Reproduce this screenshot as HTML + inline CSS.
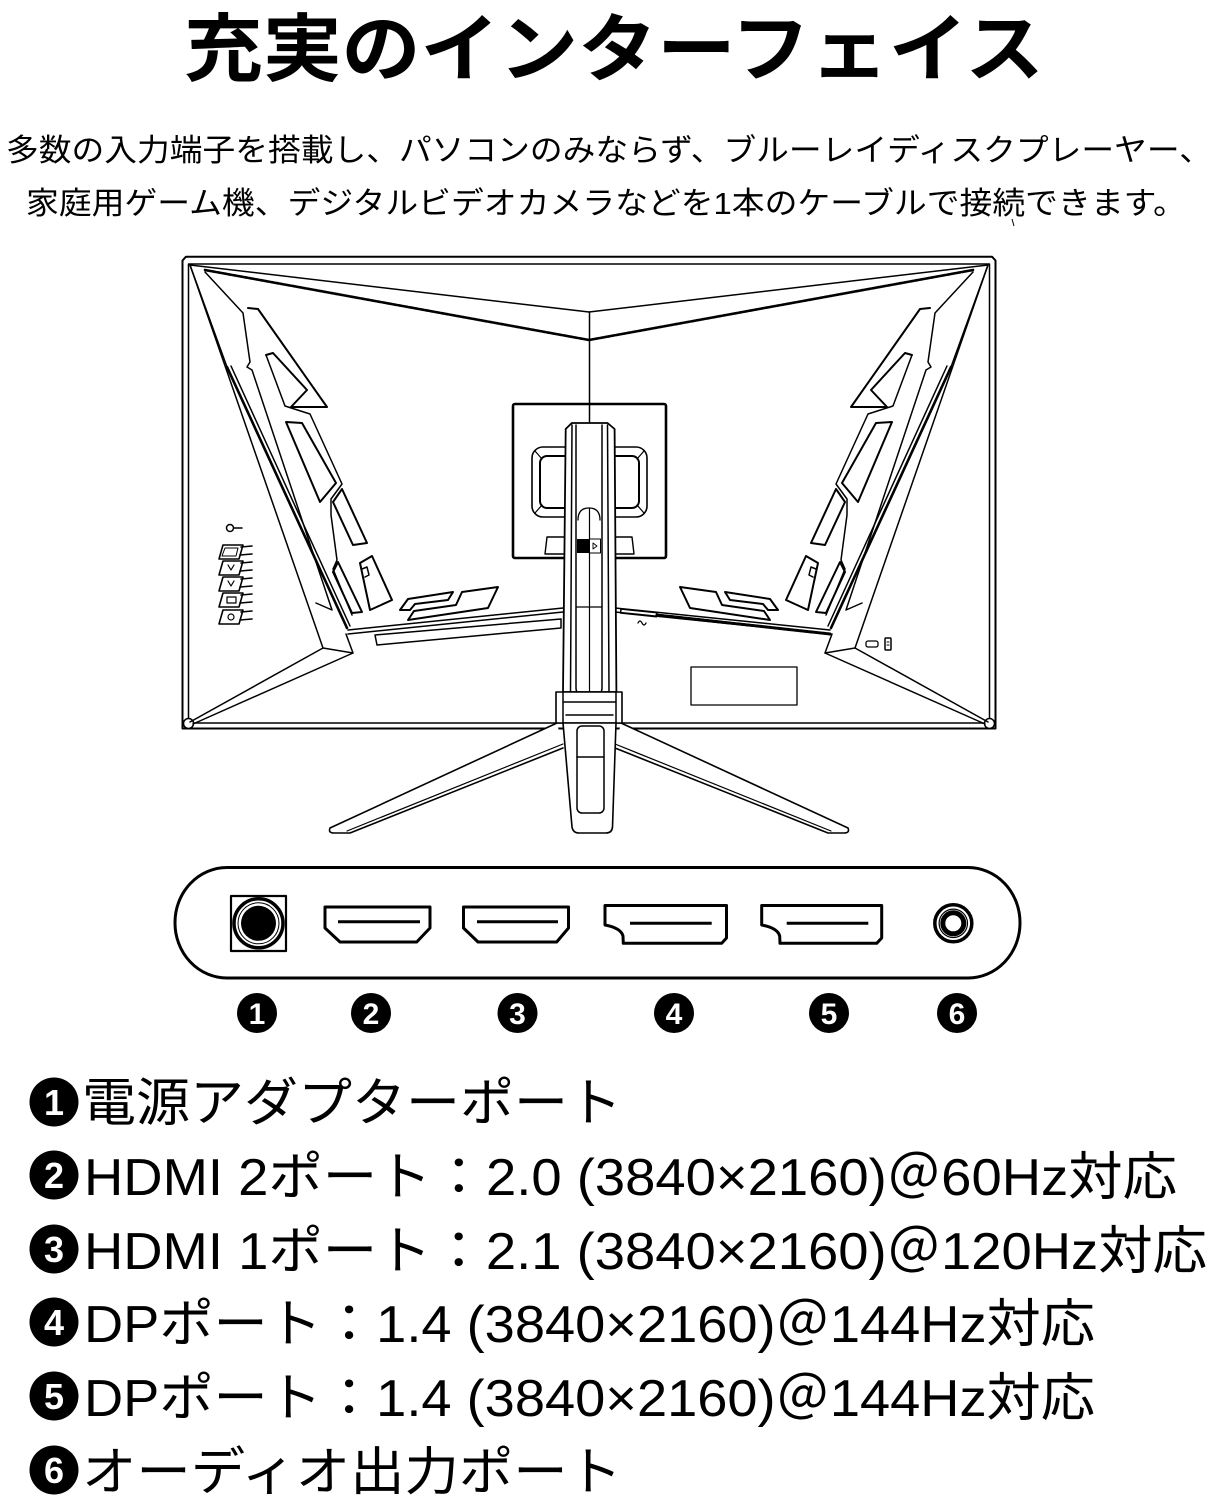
<!DOCTYPE html>
<html><head><meta charset="utf-8"><style>
html,body{margin:0;padding:0;background:#fff;}
svg{display:block;}
</style></head><body>
<svg width="1212" height="1500" viewBox="0 0 1212 1500" xmlns="http://www.w3.org/2000/svg">
<rect width="1212" height="1500" fill="#fff"/>

<!-- Title & subtitle -->
<g font-family="'Liberation Sans','Noto Sans CJK JP',sans-serif" fill="#000">
<text x="184" y="75" font-size="74" font-weight="700" textLength="860" lengthAdjust="spacingAndGlyphs">充実のインターフェイス</text>
<text x="6" y="161" font-size="31" textLength="1206" lengthAdjust="spacingAndGlyphs">多数の入力端子を搭載し、パソコンのみならず、ブルーレイディスクプレーヤー、</text>
<text x="26" y="214" font-size="31" textLength="1160" lengthAdjust="spacingAndGlyphs">家庭用ゲーム機、デジタルビデオカメラなどを1本のケーブルで接続できます。</text>
</g>
<path d="M1012,219 L1014,226" stroke="#000" stroke-width="1"/>

<!-- Monitor -->
<g fill="none" stroke="#000" stroke-width="1.5" stroke-linejoin="round" stroke-linecap="round">
<path d="M186,256.7 L992,256.7 L995.5,260.5 L995.5,728.5 L182.5,728.5 L182.5,260.5 Z" stroke-width="2"/>
<rect x="188.5" y="264" width="801" height="459" stroke-width="1.5"/>
<circle cx="188.5" cy="723.5" r="5" fill="#fff"/>
<circle cx="989.5" cy="723.5" r="5" fill="#fff"/>

<!-- left half -->
<g>
<path d="M190,265 L589,312"/>
<path d="M205,270 L589,340" stroke-width="2.6" stroke-dasharray="3 1"/>
<path d="M190,265 L323,648 L353,653 L346,634"/>
<path d="M190,265 L227,367"/>
<path d="M227,367 L347,628" stroke-width="2.6"/>
<path d="M231,366 L350,626"/>
<path d="M205,272 L243,313 L250,362 L247,367 L252,370 L332,610 L316,603"/>
<path d="M266,355 L285,406 L310,414 L342,484 L331,499 L331,515 L337,560 L333,569 L352,615"/>
<path d="M248,308 L258,309 L327,407 L291,407 L307,390 L273,353 L266,355" stroke-width="2"/>
<polygon points="286,422 302,423 336,483 320,502" stroke-width="2"/>
<polygon points="333,502 342,489 367,543 353,545" stroke-width="2"/>
<polygon points="333,572 338,562 362,612 352,613" stroke-width="2"/>
<polygon points="360,563 372,556 392,600 370,610" stroke-width="2"/>
<path d="M362,569 L367,567 L369,575 L365,577" stroke-width="1.5"/>
<path d="M323,648 L190,722"/>
<path d="M353,653 L193,724"/>
<polygon points="400,610 408,599 453,592 448,600 415,604 410,610" stroke-width="2"/>
<polygon points="408,620 414,611 456,605 462,592 498,587 488,608" stroke-width="2"/>
<path d="M348,630 L563,608"/>
<path d="M348,634 L563,612"/>
</g>

<!-- right half (mirror) -->
<g transform="translate(1178,0) scale(-1,1)">
<path d="M190,265 L589,312"/>
<path d="M205,270 L589,340" stroke-width="2.6" stroke-dasharray="3 1"/>
<path d="M190,265 L323,648 L353,653 L346,634"/>
<path d="M190,265 L227,367"/>
<path d="M227,367 L347,628" stroke-width="2.6"/>
<path d="M231,366 L350,626"/>
<path d="M205,272 L243,313 L250,362 L247,367 L252,370 L332,610 L316,603"/>
<path d="M266,355 L285,406 L310,414 L342,484 L331,499 L331,515 L337,560 L333,569 L352,615"/>
<path d="M248,308 L258,309 L327,407 L291,407 L307,390 L273,353 L266,355" stroke-width="2"/>
<polygon points="286,422 302,423 336,483 320,502" stroke-width="2"/>
<polygon points="333,502 342,489 367,543 353,545" stroke-width="2"/>
<polygon points="333,572 338,562 362,612 352,613" stroke-width="2"/>
<polygon points="360,563 372,556 392,600 370,610" stroke-width="2"/>
<path d="M362,569 L367,567 L369,575 L365,577" stroke-width="1.5"/>
<path d="M323,648 L190,722"/>
<path d="M353,653 L193,724"/>
<polygon points="400,610 408,599 453,592 448,600 415,604 410,610" stroke-width="2"/>
<polygon points="408,620 414,611 456,605 462,592 498,587 488,608" stroke-width="2"/>
<path d="M348,630 L563,608"/>
<path d="M348,634 L563,612"/>
</g>

<!-- left long slot rect -->
<polygon points="375,635 561,619 561,628 377,645" stroke-width="1.5"/>
<!-- right vent -->
<path d="M657,615 L830,634" stroke-width="3" stroke-dasharray="3 1.5"/>
<rect x="621" y="609" width="36" height="4" stroke-width="1.5" transform="rotate(6 621 609)"/>
<path d="M638,623 q2,-4 4,0 q2,4 4,0" stroke-width="1.3"/>
<rect x="691" y="667" width="106" height="38" stroke-width="1.3"/>
<rect x="866" y="641" width="12" height="6" rx="2" stroke-width="1.3"/>
<rect x="885" y="638" width="6" height="12" rx="1" stroke-width="1.5"/>
<path d="M887,642 L889,642 M887,645 L889,645" stroke-width="1"/>

<!-- left port icons -->
<circle cx="230" cy="528" r="3.5" stroke-width="1.5"/>
<path d="M234,528 L242,528" stroke-width="1.5"/>
<g stroke-width="1.6">
<polygon points="219,559 223,545 243,545 239,559"/>
<polygon points="222,556 225,548 238,548 236,556" stroke-width="1"/>
<path d="M241,547 L252,546 M240,555 L252,554"/>
<polygon points="219,575 223,561 243,561 239,575"/>
<path d="M228,565 L231,570 L234,565" stroke-width="1.2"/>
<path d="M241,563 L252,562 M240,571 L252,570"/>
<polygon points="219,591 223,577 243,577 239,591"/>
<path d="M228,581 L231,586 L234,581" stroke-width="1.2"/>
<path d="M241,579 L252,578 M240,587 L252,586"/>
<polygon points="219,607 223,593 243,593 239,607"/>
<rect x="227" y="597" width="9" height="6" stroke-width="1.2"/>
<path d="M241,595 L252,594 M240,603 L252,602"/>
<polygon points="219,624 223,610 243,610 239,624"/>
<circle cx="231" cy="617" r="3" stroke-width="1.2"/>
<path d="M241,612 L252,611 M240,620 L252,619"/>
</g>

<!-- vertical centre line -->
<path d="M589.5,312 L589.5,423"/>

<!-- mount plate -->
<rect x="513" y="404" width="153" height="154" rx="2" stroke-width="2.6" fill="#fff"/>
<path d="M589.5,404 L589.5,423"/>
<!-- handles -->
<rect x="532" y="447" width="48" height="70" rx="11" stroke-width="1.6"/>
<rect x="540" y="456" width="40" height="52" rx="7" stroke-width="2"/>
<path d="M535,451 L542,459 M535,513 L542,505" stroke-width="1.2"/>
<rect x="598" y="447" width="49" height="70" rx="11" stroke-width="1.6"/>
<rect x="598" y="456" width="41" height="52" rx="7" stroke-width="2"/>
<path d="M644,451 L637,459 M644,513 L637,505" stroke-width="1.2"/>
<polygon points="547,537 577,537 577,554 545,554" stroke-width="1.4"/>
<polygon points="602,537 632,537 634,554 602,554" stroke-width="1.4"/>

<!-- legs -->
<path d="M557,723 L330,828 Q328,833 334,833 L350,833 L563,748" fill="#fff" stroke-width="1.6"/>
<path d="M347,831 L563,744" stroke-width="1.2"/>
<path d="M621,723 L848,828 Q850,833 844,833 L828,833 L615,748" fill="#fff" stroke-width="1.6"/>
<path d="M831,831 L615,744" stroke-width="1.2"/>

<!-- neck -->
<polygon points="565.7,429 571.8,423 607.5,423 614.6,429 616.4,692 563,692" fill="#fff" stroke-width="1.8"/>
<path d="M572,425 L570.5,692"/>
<path d="M607.5,425 L609,692"/>
<path d="M576,425 L576,688 Q576,694 582,694 L596,694 Q602,694 602,688 L602,425"/>
<path d="M578,520 Q578,508 589,508 Q600,508 600,520" stroke-width="1.3"/>
<path d="M589.5,508 L589.5,694" stroke-width="1.2"/>
<path d="M576,607 L602,607" stroke-width="1.2"/>
<rect x="577" y="539" width="12" height="14" fill="#000" stroke="none"/>
<rect x="589.5" y="539" width="11" height="14" fill="#fff" stroke-width="1"/>
<path d="M593,543 L597,546 L593,549 Z" stroke-width="0.9"/>

<!-- stand base -->
<rect x="556" y="692" width="66" height="31" fill="#fff" stroke-width="1.6"/>
<path d="M563,692 L563,723 M616,692 L616,723 M563,702 L616,702 M566,715 L613,715"/>
<path d="M563,723 L572,827 Q573,833 579,833 L606,833 Q612,833 612.5,827 L616,723 Z" fill="#fff" stroke-width="1.6"/>
<rect x="577" y="726" width="27" height="87" rx="5" stroke-width="1.5"/>
<path d="M577,757 L604,757"/>
</g>

<!-- Port panel -->
<g fill="none" stroke="#000" stroke-linejoin="round">
<rect x="175" y="867.5" width="845" height="110.5" rx="52" ry="55" stroke-width="3"/>
<rect x="231" y="896" width="55" height="55" stroke-width="2.2"/>
<circle cx="258.5" cy="923.3" r="24.5" stroke-width="3.5"/>
<circle cx="258.5" cy="923.3" r="20.5" stroke-width="1"/>
<circle cx="258.5" cy="923.3" r="17.5" fill="#000" stroke="none"/>
<path d="M325,907 L430,907 L430,928 L416.7,942 L340,942 L325,928 Z" stroke-width="3"/>
<path d="M338,921.7 L420,921.7" stroke-width="3"/>
<path d="M463.5,907 L568.5,907 L568.5,928 L556.7,942 L478,942 L463.5,928 Z" stroke-width="3"/>
<path d="M477,921.7 L558,921.7" stroke-width="3"/>
<path d="M605,905.5 L726.5,905.5 L726.5,938 L721.7,943.3 L623.3,943.3 L623,936 Q621,928 605,925 Z" stroke-width="3"/>
<path d="M630,923.3 L711.7,923.3" stroke-width="3"/>
<path d="M761.7,905.5 L881.7,905.5 L881.7,938 L876.7,943.3 L780,943.3 L779.7,936 Q777.7,928 761.7,925 Z" stroke-width="3"/>
<path d="M786.7,923.3 L868.3,923.3" stroke-width="3"/>
<circle cx="953.3" cy="923.3" r="18.5" stroke-width="3.5"/>
<circle cx="953.3" cy="923.3" r="14.2" stroke-width="1.2"/>
<circle cx="953.3" cy="923.3" r="10.5" stroke-width="5" fill="#fff"/>
</g>

<!-- numbered circles under panel -->
<g font-family="'Liberation Sans',sans-serif" font-weight="700" font-size="30" fill="#fff" text-anchor="middle">
<circle cx="257" cy="1013" r="20" fill="#000"/><text x="257" y="1024">1</text>
<circle cx="371" cy="1013" r="20" fill="#000"/><text x="371" y="1024">2</text>
<circle cx="517.5" cy="1013" r="20" fill="#000"/><text x="517.5" y="1024">3</text>
<circle cx="674" cy="1013" r="20" fill="#000"/><text x="674" y="1024">4</text>
<circle cx="829" cy="1013" r="20" fill="#000"/><text x="829" y="1024">5</text>
<circle cx="957" cy="1013" r="20" fill="#000"/><text x="957" y="1024">6</text>
</g>

<!-- list circles -->
<g font-family="'Liberation Sans',sans-serif" font-weight="700" font-size="36" fill="#fff" text-anchor="middle">
<circle cx="54" cy="1102" r="24.5" fill="#000"/><text x="54" y="1115">1</text>
<circle cx="54" cy="1175" r="24.5" fill="#000"/><text x="54" y="1188">2</text>
<circle cx="54" cy="1249" r="24.5" fill="#000"/><text x="54" y="1262">3</text>
<circle cx="54" cy="1322" r="24.5" fill="#000"/><text x="54" y="1335">4</text>
<circle cx="54" cy="1396" r="24.5" fill="#000"/><text x="54" y="1409">5</text>
<circle cx="54" cy="1470" r="24.5" fill="#000"/><text x="54" y="1483">6</text>
</g>

<!-- list text -->
<g font-family="'Liberation Sans','Noto Sans CJK JP',sans-serif" font-size="52" fill="#000">
<text x="82" y="1121" textLength="540" lengthAdjust="spacingAndGlyphs">電源アダプターポート</text>
<text x="84" y="1195" textLength="1093" lengthAdjust="spacingAndGlyphs">HDMI 2ポート：2.0 (3840×2160)＠60Hz対応</text>
<text x="84" y="1269" textLength="1123" lengthAdjust="spacingAndGlyphs">HDMI 1ポート：2.1 (3840×2160)＠120Hz対応</text>
<text x="84" y="1342" textLength="1011" lengthAdjust="spacingAndGlyphs">DPポート：1.4 (3840×2160)＠144Hz対応</text>
<text x="84" y="1416" textLength="1011" lengthAdjust="spacingAndGlyphs">DPポート：1.4 (3840×2160)＠144Hz対応</text>
<text x="82" y="1490" textLength="540" lengthAdjust="spacingAndGlyphs">オーディオ出力ポート</text>
</g>
</svg>
</body></html>
